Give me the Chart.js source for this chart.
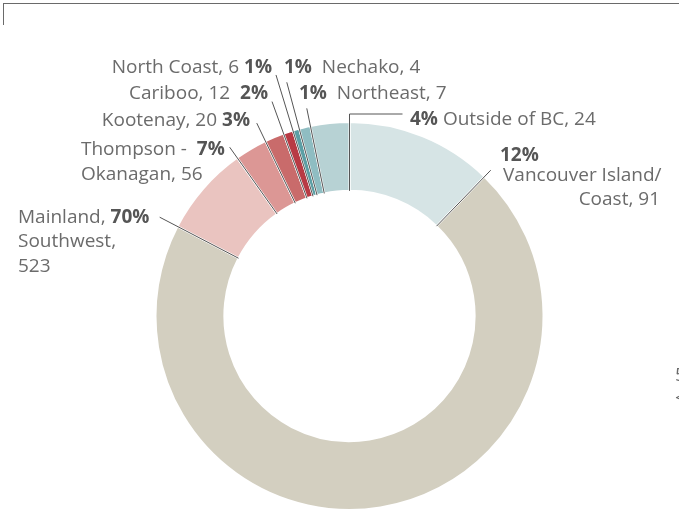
<!DOCTYPE html>
<html>
<head>
<meta charset="utf-8">
<title>Regions</title>
<script src="https://cdn.jsdelivr.net/npm/chart.js@4.4.1/dist/chart.umd.min.js"></script>
<style>
  html, body { margin: 0; padding: 0; background: #fff; }
  #wrap { position: relative; width: 679px; height: 511px; overflow: hidden; }
  #regionChart { position: absolute; left: 0; top: 0; }
  .frame-top { position: absolute; left: 3px; top: 3px; width: 676px; border-top: 1px solid #6a6a6a; }
  .frame-left { position: absolute; left: 3px; top: 3px; height: 22px; border-left: 1px solid #6a6a6a; }
</style>
</head>
<body>
<div id="wrap">
  <canvas id="regionChart" width="679" height="511"></canvas>
  <div class="frame-top"></div>
  <div class="frame-left"></div>
</div>
<script>
// Regiones (en orden horario desde las 12)
const regions = ['Vancouver Island/Coast', 'Mainland/Southwest', 'Thompson - Okanagan', 'Kootenay',
                 'Cariboo', 'North Coast', 'Nechako', 'Northeast', 'Outside of BC'];
const counts = [91, 523, 56, 20, 12, 6, 4, 7, 24];
const shares = ['12%', '70%', '7%', '3%', '2%', '1%', '1%', '1%', '4%'];
const sliceColors = ['#d6e4e5', '#d3cfc0', '#eac4c0', '#dc9795', '#c96b6b',
                     '#b83a44', '#5c9fa5', '#8fbdc2', '#b7d2d4'];

const FONT = '"Open Sans", "Liberation Sans", sans-serif';
const FONT_SIZE = 19;
const TEXT_COLOR = '#6b6b6b';
const BOLD_COLOR = '#555555';

const b = (t) => ({ text: t, bold: true });
const r = (t) => ({ text: t, bold: false });

// Etiquetas: largo de la guia (desde el centro) y lineas de texto
const callouts = [
    { reach: 203, lines: [
        { x: 500, y: 161, align: 'left', parts: [b(shares[0])] },
        { x: 503, y: 181, align: 'left', parts: [r('Vancouver Island/')] },
        { x: 660, y: 205, align: 'right', parts: [r('Coast, ' + counts[0])] } ] },
    { reach: 214, lines: [
        { x: 18, y: 223, align: 'left', parts: [r('Mainland, '), b(shares[1])] },
        { x: 18, y: 247, align: 'left', parts: [r('Southwest,')] },
        { x: 18, y: 272, align: 'left', parts: [r(String(counts[1]))] } ] },
    { reach: 207, lines: [
        { x: 81, y: 155, align: 'left', parts: [r('Thompson -  '), b(shares[2])] },
        { x: 81, y: 180, align: 'left', parts: [r('Okanagan, ' + counts[2])] } ] },
    { reach: 214, lines: [
        { x: 250, y: 126, align: 'right', parts: [r('Kootenay, ' + counts[3] + ' '), b(shares[3])] } ] },
    { reach: 228, lines: [
        { x: 268, y: 99, align: 'right', parts: [r('Cariboo, ' + counts[4] + '  '), b(shares[4])] } ] },
    { reach: 252, lines: [
        { x: 272, y: 73, align: 'right', parts: [r('North Coast, ' + counts[5] + ' '), b(shares[5])] } ] },
    { reach: 242, lines: [
        { x: 284, y: 73, align: 'left', parts: [b(shares[6]), r('  Nechako, ' + counts[6])] } ] },
    { reach: 212, lines: [
        { x: 299, y: 99, align: 'left', parts: [b(shares[7]), r('  Northeast, ' + counts[7])] } ] },
    { reach: 202, elbow: 53, lines: [
        { x: 410, y: 125, align: 'left', parts: [b(shares[8]), r(' Outside of BC, ' + counts[8])] } ] }
];

function drawTextLine(ctx, line) {
    const widths = line.parts.map(p => {
        ctx.font = (p.bold ? '700 ' : '400 ') + FONT_SIZE + 'px ' + FONT;
        return ctx.measureText(p.text).width;
    });
    const total = widths.reduce((s, w) => s + w, 0);
    let x = line.align === 'right' ? line.x - total : line.x;
    line.parts.forEach((p, k) => {
        ctx.font = (p.bold ? '700 ' : '400 ') + FONT_SIZE + 'px ' + FONT;
        ctx.fillStyle = p.bold ? BOLD_COLOR : TEXT_COLOR;
        ctx.fillText(p.text, x, line.y);
        x += widths[k];
    });
}

// Guias radiales en el borde final de cada porcion + textos
const calloutPlugin = {
    id: 'callouts',
    afterDatasetsDraw(chart) {
        const ctx = chart.ctx;
        const arcs = chart.getDatasetMeta(0).data;
        ctx.save();
        ctx.strokeStyle = '#555555';
        ctx.lineWidth = 1;
        arcs.forEach((arc, i) => {
            const c = callouts[i];
            const cos = Math.cos(arc.endAngle);
            const sin = Math.sin(arc.endAngle);
            const x1 = arc.x + c.reach * cos;
            const y1 = arc.y + c.reach * sin;
            ctx.beginPath();
            ctx.moveTo(arc.x + arc.innerRadius * cos, arc.y + arc.innerRadius * sin);
            ctx.lineTo(x1, y1);
            if (c.elbow) ctx.lineTo(x1 + c.elbow, y1);
            ctx.stroke();
        });
        ctx.textAlign = 'left';
        ctx.textBaseline = 'alphabetic';
        callouts.forEach(c => c.lines.forEach(line => drawTextLine(ctx, line)));

        // texto cortado del panel vecino
        ctx.font = '400 ' + FONT_SIZE + 'px ' + FONT;
        ctx.fillStyle = TEXT_COLOR;
        ctx.fillText('5', 675, 381);
        ctx.fillText('<', 675, 404);
        ctx.restore();
    }
};

new Chart(document.getElementById('regionChart'), {
    type: 'doughnut',
    data: {
        labels: regions,
        datasets: [{
            data: counts,
            backgroundColor: sliceColors,
            borderColor: '#ffffff',
            borderWidth: 2,
            hoverOffset: 0,
            offset: 0
        }]
    },
    options: {
        responsive: false,
        animation: false,
        cutout: '64.5%',
        layout: { padding: { left: 154, right: 134, top: 121, bottom: 0 } },
        plugins: {
            legend: { display: false },
            tooltip: { enabled: false }
        }
    },
    plugins: [calloutPlugin]
});
</script>
</body>
</html>
